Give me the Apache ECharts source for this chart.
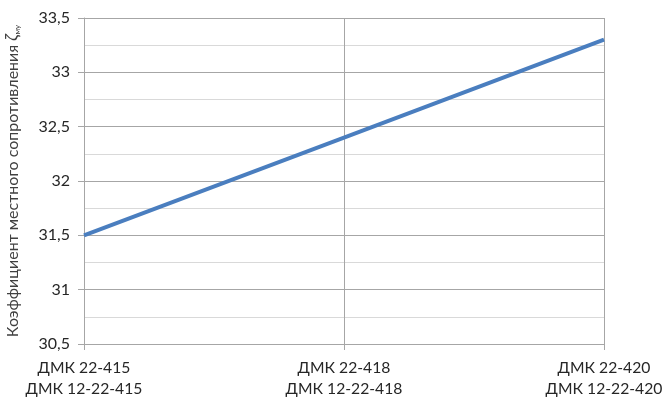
<!DOCTYPE html>
<html><head><meta charset="utf-8">
<script src="https://cdn.jsdelivr.net/npm/echarts@6/dist/echarts.min.js"></script>
<style>html,body{margin:0;padding:0;background:#fff}#c{width:662px;height:398px}</style>
</head><body><div id="c"></div>
<script>
const categories = ['ДМК 22-415\nДМК 12-22-415', 'ДМК 22-418\nДМК 12-22-418', 'ДМК 22-420\nДМК 12-22-420'];
const values = [31.5, 32.4, 33.3];
const yMin = 30.5, yMax = 33.5, yStep = 0.5;

const chart = echarts.init(document.getElementById('c'));
chart.setOption({
  animation: false,
  grid: { left: 84, right: 58, top: 18, bottom: 54, containLabel: false, outerBoundsMode: 'none' },
  xAxis: {
    type: 'category', data: categories, boundaryGap: false,
    axisLine: { show: true, lineStyle: { color: '#a6a6a6', width: 1 } },
    axisTick: { show: true, length: 6, alignWithLabel: true, lineStyle: { color: '#a6a6a6' } },
    splitLine: { show: true, lineStyle: { color: '#a6a6a6', width: 1 } },
    axisLabel: { color: '#262626', fontSize: 15.7, fontFamily: 'Lato', lineHeight: 21, margin: 13, hideOverlap: false }
  },
  yAxis: {
    type: 'value', min: yMin, max: yMax, interval: yStep,
    name: 'Коэффициент местного сопротивления {z|ζ}{s|му}',
    nameLocation: 'middle', nameGap: 63, nameRotate: 90,
    nameTextStyle: { color: '#404040', fontSize: 16, fontFamily: 'Lato',
      rich: { z: { fontSize: 17, color: '#404040', fontFamily: 'Lato', fontStyle: 'italic' }, s: { fontSize: 8, color: '#404040', fontFamily: 'Lato', verticalAlign: 'bottom', padding: [7, 0, 0, 0] } } },
    axisLine: { show: true, lineStyle: { color: '#a6a6a6', width: 1 } },
    axisTick: { show: true, length: 6, lineStyle: { color: '#a6a6a6' } },
    splitLine: { show: true, lineStyle: { color: '#a6a6a6', width: 1 } },
    minorTick: { show: false, splitNumber: 2 },
    minorSplitLine: { show: true, lineStyle: { color: '#d9d9d9', width: 1 } },
    axisLabel: { color: '#262626', fontSize: 16, fontFamily: 'Lato', margin: 14,
      formatter: v => String(v).replace('.', ',') }
  },
  series: [{
    type: 'line', data: values, symbol: 'none',
    lineStyle: { color: '#4a7ebf', width: 4 }
  }]
});
</script></body></html>
